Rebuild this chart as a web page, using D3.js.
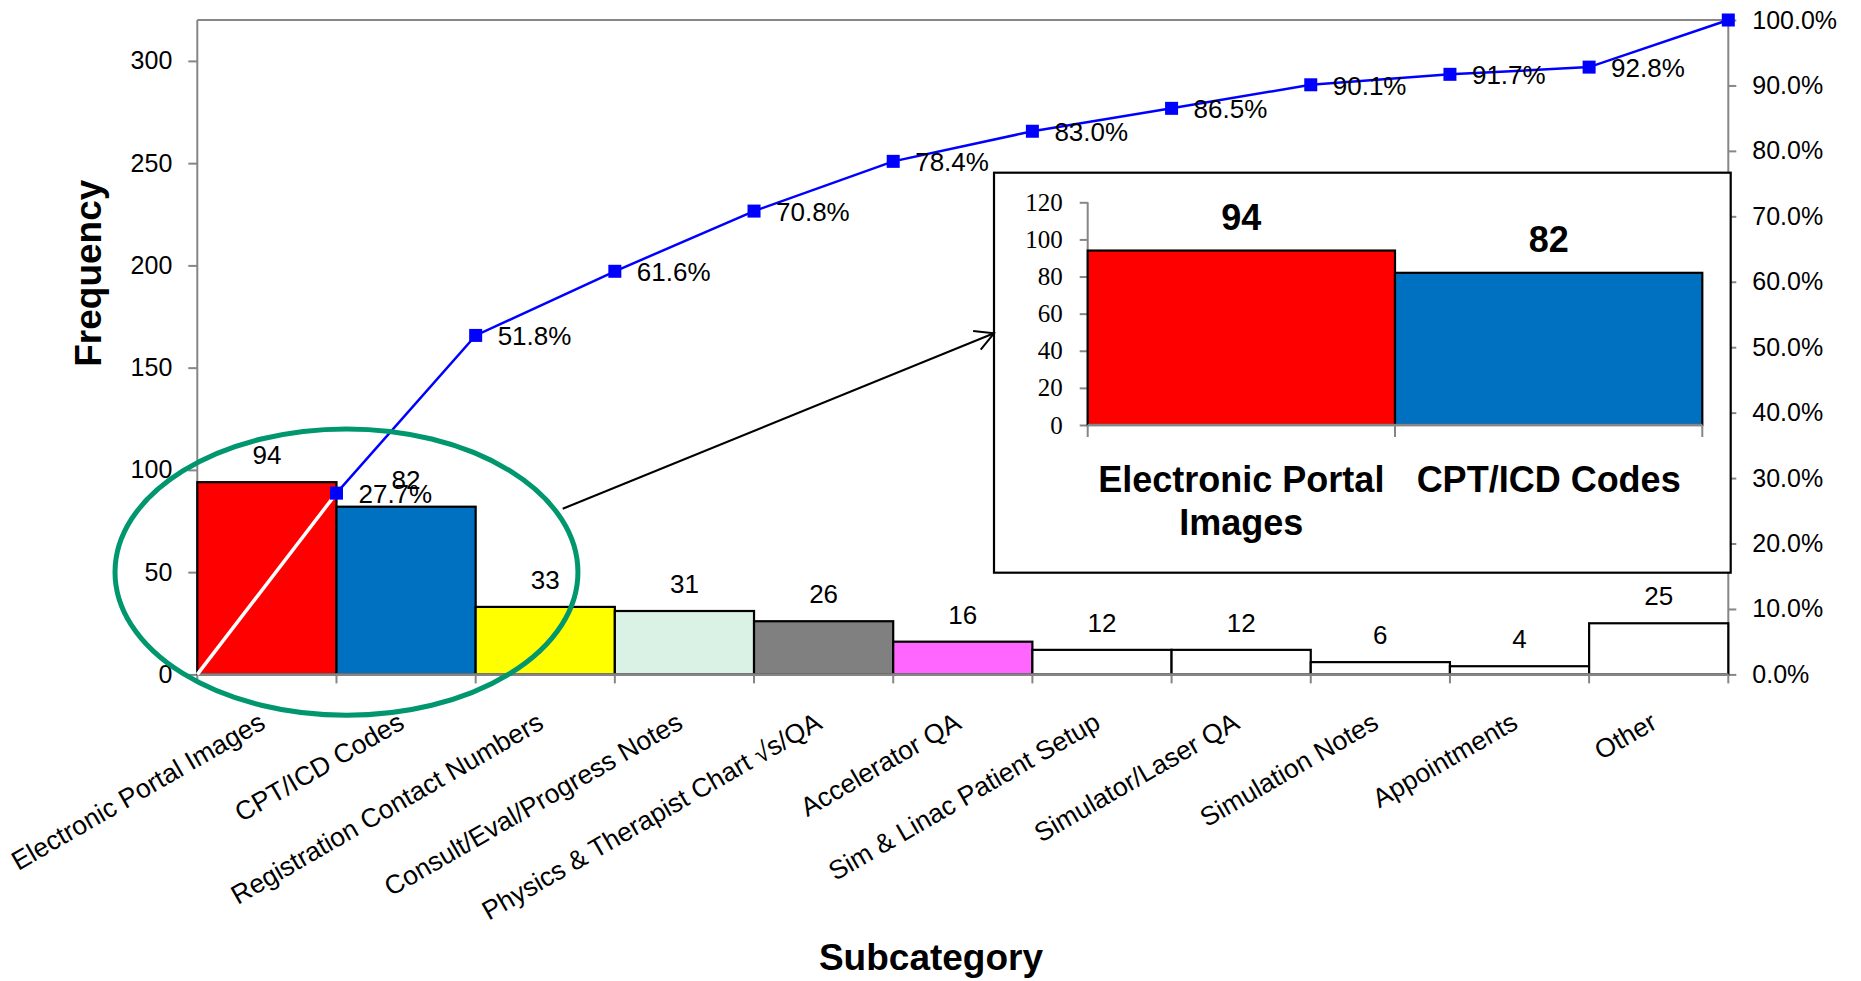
<!DOCTYPE html>
<html>
<head>
<meta charset="utf-8">
<script src="https://cdn.jsdelivr.net/npm/d3@7/dist/d3.min.js"></script>
<style>
  html, body { margin: 0; padding: 0; background: #fff; }
  svg { display: block; }
  text { font-family: "Liberation Sans", Arial, sans-serif; fill: #000; }
</style>
</head>
<body>
<svg id="chart" width="1861" height="981"></svg>
<script>
// ---------------- data ----------------
const categories = [
  "Electronic Portal Images", "CPT/ICD Codes", "Registration Contact Numbers",
  "Consult/Eval/Progress Notes", "Physics & Therapist Chart \u221As/QA", "Accelerator QA",
  "Sim & Linac Patient Setup", "Simulator/Laser QA", "Simulation Notes", "Appointments", "Other"
];
const counts = [94, 82, 33, 31, 26, 16, 12, 12, 6, 4, 25];
const cumPct = [27.7, 51.8, 61.6, 70.8, 78.4, 83.0, 86.5, 90.1, 91.7, 92.8, 100.0];
const barColors = ["#FF0000", "#0070C0", "#FFFF00", "#DAF2E6", "#808080", "#FF66FF",
                   "#FFFFFF", "#FFFFFF", "#FFFFFF", "#FFFFFF", "#FFFFFF"];
const leftTicks = [0, 50, 100, 150, 200, 250, 300];
const rightTicks = [0, 10, 20, 30, 40, 50, 60, 70, 80, 90, 100];

const insetCategories = ["Electronic Portal Images", "CPT/ICD Codes"];
const insetLabelLines = [["Electronic Portal", "Images"], ["CPT/ICD Codes"]];
const insetCounts = [94, 82];
const insetColors = ["#FF0000", "#0070C0"];
const insetTicks = [0, 20, 40, 60, 80, 100, 120];

const xTitle = "Subcategory";
const yTitle = "Frequency";

// ---------------- layout ----------------
const svg = d3.select("#chart");
const L = 197.3, R = 1728.3, T = 20, B = 674.4;
const axisGray = "#868686";
const axisFont = 25, dataFont = 26, catFont = 26.5;

const x = d3.scaleBand().domain(categories).range([L, R]).paddingInner(0).paddingOuter(0);
const y = d3.scaleLinear().domain([0, 320]).range([B, T]);
const yP = d3.scaleLinear().domain([0, 100]).range([B, T]);

// plot top border
svg.append("line").attr("x1", L).attr("x2", R).attr("y1", T).attr("y2", T)
  .attr("stroke", axisGray).attr("stroke-width", 2);

// left axis
const gL = svg.append("g").attr("transform", `translate(${L},0)`)
  .call(d3.axisLeft(y).tickValues(leftTicks).tickSize(9).tickPadding(16).tickFormat(d3.format("d")));
gL.select(".domain").attr("stroke", axisGray).attr("stroke-width", 2).attr("d", `M-0,${B}V${T}`);
gL.selectAll(".tick line").attr("stroke", axisGray).attr("stroke-width", 2);
gL.selectAll(".tick text").style("font-size", axisFont + "px").attr("fill", "#000")
  .style("font-family", "'Liberation Sans', Arial, sans-serif");

// right axis
const gR = svg.append("g").attr("transform", `translate(${R},0)`)
  .call(d3.axisRight(yP).tickValues(rightTicks).tickSize(8).tickPadding(16).tickFormat(d => d.toFixed(1) + "%"));
gR.select(".domain").attr("stroke", axisGray).attr("stroke-width", 2).attr("d", `M0,${B}V${T}`);
gR.selectAll(".tick line").attr("stroke", axisGray).attr("stroke-width", 2);
gR.selectAll(".tick text").style("font-size", axisFont + "px").attr("fill", "#000")
  .style("font-family", "'Liberation Sans', Arial, sans-serif");

// bars
svg.append("g").selectAll("rect").data(categories).join("rect")
  .attr("x", d => x(d))
  .attr("width", x.bandwidth())
  .attr("y", (d, i) => y(counts[i]))
  .attr("height", (d, i) => B - y(counts[i]))
  .attr("fill", (d, i) => barColors[i])
  .attr("stroke", "#000").attr("stroke-width", 2.2);

// bottom axis line + boundary ticks
const boundaries = categories.map(c => x(c)).concat([x.range()[1]]);
svg.append("line").attr("x1", L).attr("x2", R).attr("y1", B).attr("y2", B)
  .attr("stroke", axisGray).attr("stroke-width", 2.5);
svg.append("g").selectAll("line").data(boundaries).join("line")
  .attr("x1", d => d).attr("x2", d => d).attr("y1", B).attr("y2", B + 9)
  .attr("stroke", axisGray).attr("stroke-width", 2);

// bar value labels
svg.append("g").selectAll("text").data(categories).join("text")
  .attr("x", d => x(d) + x.bandwidth() / 2)
  .attr("y", (d, i) => y(counts[i]) - 18)
  .attr("text-anchor", "middle")
  .style("font-size", dataFont + "px")
  .text((d, i) => counts[i]);

// category labels (rotated)
svg.append("g").selectAll("text").data(categories).join("text")
  .attr("transform", d => `translate(${x(d) + x.bandwidth() / 2},${B + 53}) rotate(-30)`)
  .attr("text-anchor", "end")
  .style("font-size", catFont + "px")
  .text(d => d);

// cumulative line
const pts = categories.map((c, i) => [x(c) + x.bandwidth(), yP(cumPct[i])]);
svg.append("line")
  .attr("x1", x.range()[0]).attr("y1", yP(0))
  .attr("x2", pts[0][0]).attr("y2", pts[0][1])
  .attr("stroke", "#FFFFFF").attr("stroke-width", 3.5);
svg.append("path").datum(pts)
  .attr("d", d3.line())
  .attr("fill", "none").attr("stroke", "#0000FF").attr("stroke-width", 2.5);
const ms = 13;
svg.append("g").selectAll("rect").data(pts).join("rect")
  .attr("x", d => d[0] - ms / 2).attr("y", d => d[1] - ms / 2)
  .attr("width", ms).attr("height", ms).attr("fill", "#0000FF");
svg.append("g").selectAll("text").data(pts.slice(0, pts.length - 1)).join("text")
  .attr("x", d => d[0] + 22).attr("y", d => d[1] + 10)
  .style("font-size", dataFont + "px")
  .text((d, i) => cumPct[i].toFixed(1) + "%");

// axis titles
svg.append("text")
  .attr("transform", `translate(101,${(T + B) / 2 - 74}) rotate(-90)`)
  .attr("text-anchor", "middle")
  .style("font-size", "37px").style("font-weight", "bold")
  .text(yTitle);
svg.append("text")
  .attr("x", 931).attr("y", 970)
  .attr("text-anchor", "middle")
  .style("font-size", "37px").style("font-weight", "bold")
  .text(xTitle);

// green ellipse highlight (around first two bars)
svg.append("ellipse")
  .attr("cx", x(categories[1]) + 10)
  .attr("cy", y(50))
  .attr("rx", x.bandwidth() * 1.663)
  .attr("ry", y(0) - y(70))
  .attr("fill", "none").attr("stroke", "#00966E").attr("stroke-width", 5);

// inset box
const boxL = 994, boxT = 172.7, boxR = 1730.7, boxB = 572.7;
svg.append("rect").attr("x", boxL).attr("y", boxT)
  .attr("width", boxR - boxL).attr("height", boxB - boxT)
  .attr("fill", "#fff").attr("stroke", "#000").attr("stroke-width", 2.2);

// arrow
const ax1 = 562.7, ay1 = y(81), ax2 = boxL, ay2 = 333.3;
svg.append("line").attr("x1", ax1).attr("y1", ay1).attr("x2", ax2).attr("y2", ay2)
  .attr("stroke", "#000").attr("stroke-width", 2);
{
  const ang = Math.atan2(ay2 - ay1, ax2 - ax1);
  const hl = 21, spread = 0.5;
  const p1 = [ax2 - hl * Math.cos(ang - spread), ay2 - hl * Math.sin(ang - spread)];
  const p2 = [ax2 - hl * Math.cos(ang + spread), ay2 - hl * Math.sin(ang + spread)];
  svg.append("path").attr("d", `M${p1[0]},${p1[1]}L${ax2},${ay2}L${p2[0]},${p2[1]}`)
    .attr("fill", "none").attr("stroke", "#000").attr("stroke-width", 2);
}

// inset chart
const iL = 1087.7, iR = 1702.3, iB = 425, iT = 202.3;
const xi = d3.scaleBand().domain(insetCategories).range([iL, iR]).paddingInner(0).paddingOuter(0);
const yi = d3.scaleLinear().domain([0, 120]).range([iB, iT]);

const gI = svg.append("g").attr("transform", `translate(${iL},0)`)
  .call(d3.axisLeft(yi).tickValues(insetTicks).tickSize(8).tickPadding(17).tickFormat(d3.format("d")));
gI.select(".domain").attr("stroke", axisGray).attr("stroke-width", 2).attr("d", `M0,${iB}V${iT}`);
gI.selectAll(".tick line").attr("stroke", axisGray).attr("stroke-width", 2);
gI.selectAll(".tick text").style("font-size", "25px").attr("fill", "#000")
  .style("font-family", "'Liberation Serif', 'Times New Roman', serif");

svg.append("g").selectAll("rect").data(insetCategories).join("rect")
  .attr("x", d => xi(d)).attr("width", xi.bandwidth())
  .attr("y", (d, i) => yi(insetCounts[i]))
  .attr("height", (d, i) => iB - yi(insetCounts[i]))
  .attr("fill", (d, i) => insetColors[i])
  .attr("stroke", "#000").attr("stroke-width", 2.2);

svg.append("line").attr("x1", iL).attr("x2", iR).attr("y1", iB).attr("y2", iB)
  .attr("stroke", axisGray).attr("stroke-width", 2.5);
const iBounds = insetCategories.map(c => xi(c)).concat([xi.range()[1]]);
svg.append("g").selectAll("line").data(iBounds).join("line")
  .attr("x1", d => d).attr("x2", d => d).attr("y1", iB).attr("y2", iB + 12)
  .attr("stroke", axisGray).attr("stroke-width", 2);

svg.append("g").selectAll("text").data(insetCategories).join("text")
  .attr("x", d => xi(d) + xi.bandwidth() / 2)
  .attr("y", (d, i) => yi(insetCounts[i]) - 20.5)
  .attr("text-anchor", "middle")
  .style("font-size", "36px").style("font-weight", "bold")
  .text((d, i) => insetCounts[i]);

const il = svg.append("g").selectAll("text").data(insetCategories).join("text")
  .attr("x", d => xi(d) + xi.bandwidth() / 2)
  .attr("y", 491.7)
  .attr("text-anchor", "middle")
  .style("font-size", "36px").style("font-weight", "bold");
il.each(function (d, i) {
  const t = d3.select(this);
  insetLabelLines[i].forEach((line, k) => {
    t.append("tspan").attr("x", xi(d) + xi.bandwidth() / 2).attr("dy", k === 0 ? 0 : 43.3).text(line);
  });
});
</script>
</body>
</html>
